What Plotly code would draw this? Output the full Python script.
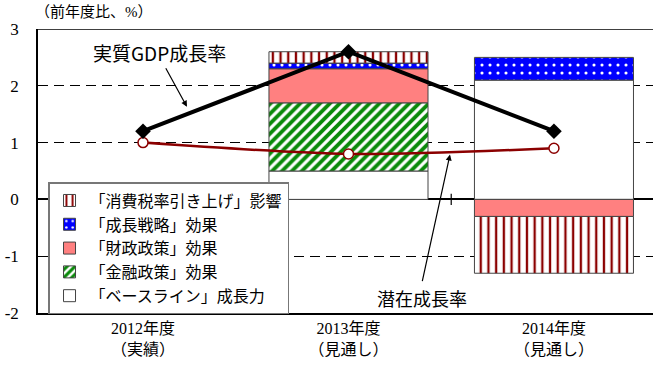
import plotly.graph_objects as go

categories = ["2012年度<br>（実績）", "2013年度<br>（見通し）", "2014年度<br>（見通し）"]

baseline = [None, 0.5, 2.1]
monetary = [None, 1.2, None]
fiscal = [None, 0.6, -0.3]
growth = [None, 0.1, 0.4]
tax = [None, 0.2, -1.0]

real_gdp = [1.2, 2.6, 1.2]
potential = [1.0, 0.8, 0.9]

y_ticks = [-2, -1, 0, 1, 2, 3]
y_tick_text = ["-2", "-1", "0", "1", "2", "3"]

JP = "Noto Sans CJK JP"
SERIF = "Liberation Serif, Noto Sans CJK JP"
BW = 0.774
OUT = dict(color="#444444", width=1)

fig = go.Figure()
fig.add_trace(go.Bar(x=categories, y=baseline, name="「ベースライン」成長力", width=BW,
                     marker=dict(color="white", line=OUT)))
fig.add_trace(go.Bar(x=categories, y=monetary, name="「金融政策」効果", width=BW,
                     marker=dict(color="white", line=OUT,
                                 pattern=dict(shape="/", fgcolor="#0A8A0A", bgcolor="white",
                                              size=7, solidity=0.55, fgopacity=1))))
fig.add_trace(go.Bar(x=categories, y=fiscal, name="「財政政策」効果", width=BW,
                     marker=dict(color="#FF8080", line=OUT)))
fig.add_trace(go.Bar(x=categories, y=growth, name="「成長戦略」効果", width=BW,
                     marker=dict(color="#0000FF", line=OUT,
                                 pattern=dict(shape=".", fgcolor="white", bgcolor="#0000FF",
                                              size=8, solidity=0.12, fgopacity=1))))
fig.add_trace(go.Bar(x=categories, y=tax, name="「消費税率引き上げ」影響", width=BW,
                     marker=dict(color="white", line=OUT,
                                 pattern=dict(shape="|", fgcolor="#8B0000", bgcolor="white",
                                              size=7.7, solidity=0.3, fgopacity=1))))

fig.add_trace(go.Scatter(x=categories, y=potential, mode="lines+markers", showlegend=False,
                         line=dict(color="#8B0000", width=2.5, shape="spline", smoothing=0.8),
                         marker=dict(symbol="circle", size=10, color="white",
                                     line=dict(color="#8B0000", width=1.5))))
fig.add_trace(go.Scatter(x=categories, y=real_gdp, mode="lines+markers", showlegend=False,
                         line=dict(color="black", width=4),
                         marker=dict(symbol="diamond", size=12, color="black")))

# category separator ticks on the zero line
for xb in [0.5, 1.5]:
    fig.add_shape(type="line", xref="x", yref="y", x0=xb, x1=xb, y0=-0.1, y1=0.1,
                  line=dict(color="black", width=1.2))
# top border
fig.add_shape(type="line", xref="paper", yref="y", x0=0, x1=1, y0=3, y1=3,
              line=dict(color="black", width=1.5))

fig.add_annotation(xref="paper", yref="paper", x=-0.008, y=1.06, xanchor="left", yanchor="middle",
                   text="（前年度比、%）", showarrow=False, font=dict(family=SERIF, size=15, color="black"))

fig.add_annotation(xref="x", yref="y", x=0.214, y=1.63, ax=-22, ay=-40, text="",
                   showarrow=True, arrowhead=2, arrowsize=1, arrowwidth=1.2, arrowcolor="black")
fig.add_annotation(xref="x", yref="y", x=0.078, y=2.595, text="実質GDP成長率", showarrow=False,
                   font=dict(family=JP, size=19, color="black"))

fig.add_annotation(xref="x", yref="y", x=1.494, y=0.79, ax=-28, ay=128, text="",
                   showarrow=True, arrowhead=2, arrowsize=1, arrowwidth=1.2, arrowcolor="black")
fig.add_annotation(xref="x", yref="y", x=1.36, y=-1.74, text="潜在成長率", showarrow=False,
                   font=dict(family=JP, size=18, color="black"))

fig.update_layout(
    width=653, height=369,
    margin=dict(l=38, r=0, t=29, b=56),
    paper_bgcolor="white", plot_bgcolor="white",
    barmode="relative", bargap=0.2,
    legend=dict(x=0.0163, y=0.461, xanchor="left", yanchor="top", traceorder="reversed",
                bgcolor="white", bordercolor="#777777", borderwidth=1.5,
                font=dict(family=JP, size=16, color="black"), tracegroupgap=0),
    xaxis=dict(type="category", range=[-0.511, 2.482], showline=True, linecolor="black",
               linewidth=1.5, ticks="", showgrid=False, tickfont=dict(family=SERIF, size=16, color="black")),
    yaxis=dict(range=[-2, 3], tickvals=y_ticks, ticktext=y_tick_text, showline=True,
               linecolor="black", linewidth=1.5,
               ticks="inside", ticklen=5, tickcolor="black", showgrid=True, gridcolor="black",
               gridwidth=1, griddash="10px,6px", zeroline=True, zerolinecolor="black",
               zerolinewidth=1.5, ticklabelstandoff=14,
               tickfont=dict(family=SERIF, size=17, color="black")),
)

fig.write_html("out.html")
